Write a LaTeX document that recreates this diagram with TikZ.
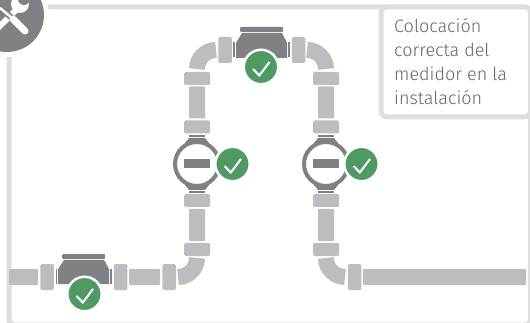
\documentclass[tikz,border=0pt]{standalone}
\usepackage{fontspec}
\setmainfont{Fira Sans}[UprightFont=* Light]
\usepackage{xcolor}
\definecolor{FrameGray}{RGB}{221,222,224}
\definecolor{PipeGray}{RGB}{188,189,192}
\definecolor{MeterGray}{RGB}{128,129,132}
\definecolor{TextGray}{RGB}{100,101,104}
\definecolor{OkGreen}{RGB}{79,154,100}

\begin{document}
\begin{tikzpicture}[x=1pt,y=-1pt,
  pipeh/.style={fill=PipeGray,rounded corners=0.8pt,inner sep=0,outer sep=0,minimum height=16pt},
  pipev/.style={fill=PipeGray,rounded corners=0.8pt,inner sep=0,outer sep=0,minimum width=16pt,minimum height=32pt},
  collarh/.style={fill=PipeGray,rounded corners=1.5pt,inner sep=0,outer sep=0,minimum width=13.5pt,minimum height=26pt},
  collarv/.style={fill=PipeGray,rounded corners=1.5pt,inner sep=0,outer sep=0,minimum width=26pt,minimum height=13pt},
  elbow/.style={draw=PipeGray,line width=16pt},
  meterbar/.style={fill=MeterGray,inner sep=0,outer sep=0},
  ring/.style={circle,draw=MeterGray,line width=4pt,fill=white,inner sep=0,minimum size=44pt},
  okblk/.style={circle,fill=OkGreen,draw=white,line width=2.5pt,inner sep=0,minimum size=34.5pt,
    path picture={\draw[white,line width=2pt] (path picture bounding box.center) ++(-8,2) -- ++(6.3,6.5) -- ++(10.2,-13.5);}},
]
\useasboundingbox (0,0) rectangle (530,323);
% frame and label
\node[draw=FrameGray,line width=5pt,rounded corners=6pt,inner sep=0,minimum width=521.5pt,minimum height=318pt,anchor=north west] (frame) at (6.5,4.5) {};
\node[draw=FrameGray,fill=white,line width=5pt,rounded corners=6pt,inner sep=0,minimum width=149.5pt,minimum height=110pt,anchor=north west] (labelbox) at (378.5,4.5) {};
\node[anchor=north west,inner sep=0,align=left,text=TextGray,font=\fontsize{18}{24}\selectfont] (labeltxt) at (394,18) {Colocación\\correcta del\\medidor en la\\instalación};
% tools badge
\node[circle,fill=white,inner sep=0,minimum size=84pt] (badgehalo) at (7,15) {};
\node[circle,fill=MeterGray,inner sep=0,minimum size=74pt] (badge) at (7,15) {};
\draw[white,line width=6pt] (-3,29) -- (16,10);
\fill[white] (20,4) circle (9pt);
\fill[MeterGray] (24,-1) circle (6pt);
\draw[MeterGray,line width=6pt] (0,8) -- (12,18);
\draw[white,line width=2.5pt] (0,8) -- (12,18);
\draw[white,line width=7pt,line cap=round] (13,19) -- (25,31);
% bottom run
\node[pipeh,minimum width=29pt] (p1) at (23.5,277) {};
\node[collarh] (c1) at (47,277) {};
\node[collarh] (c2) at (120.5,277) {};
\node[pipeh,minimum width=31pt] (p2) at (144.5,277) {};
\node[collarh] (c3) at (169,277) {};
\draw[elbow] (178,277) arc[start angle=270,end angle=360,radius=19pt];
% left column
\node[collarv] (c4) at (197,249.5) {};
\node[pipev] (p3) at (197,225) {};
\node[collarv] (c5) at (197,200.5) {};
\node[collarv] (c6) at (197,127) {};
\node[pipev] (p4) at (197,102.5) {};
\node[collarv] (c7) at (197,78.5) {};
\draw[elbow] (197,69) arc[start angle=180,end angle=90,radius=19pt];
\node[collarh] (c8) at (225,50) {};
% right column
\node[collarh] (c9) at (298.5,50) {};
\draw[elbow] (307,50) arc[start angle=90,end angle=0,radius=19pt];
\node[collarv] (c10) at (326,78.5) {};
\node[pipev] (p5) at (326,102.5) {};
\node[collarv] (c11) at (326,127) {};
\node[collarv] (c12) at (326,200.5) {};
\node[pipev] (p6) at (326,225) {};
\node[collarv] (c13) at (326,249.5) {};
\draw[elbow] (326,258) arc[start angle=180,end angle=270,radius=19pt];
\node[collarh] (c14) at (354.5,277) {};
\node[pipeh,minimum width=163pt] (p7) at (444.5,277) {};
% horizontal meters
\fill[MeterGray] (64,260) -- (104,260) -- (109,269) -- (109,284) -- (58,284) -- (58,269) -- cycle;
\node[meterbar,rounded corners=1pt,minimum width=43pt,minimum height=5pt] (m1cap) at (83.5,256.5) {};
\node[meterbar,minimum width=1.5pt,minimum height=15pt] (m1l) at (56.3,276.5) {};
\node[meterbar,minimum width=1.5pt,minimum height=15pt] (m1r) at (111.2,276.5) {};
\fill[MeterGray] (242,33) -- (282,33) -- (287,43) -- (287,58) -- (236,58) -- (236,43) -- cycle;
\node[meterbar,rounded corners=1pt,minimum width=43pt,minimum height=5pt] (m2cap) at (261.5,29.5) {};
\node[meterbar,minimum width=1.5pt,minimum height=15pt] (m2l) at (233.8,50) {};
\node[meterbar,minimum width=1.5pt,minimum height=15pt] (m2r) at (289.2,50) {};
% round meters
\node[meterbar,minimum width=16pt,minimum height=1.5pt] (m3a) at (197,136) {};
\fill[MeterGray] (189,138) -- (205,138) -- (209,143) -- (185,143) -- cycle;
\node[meterbar,minimum width=16pt,minimum height=1.5pt] (m3b) at (197,192) {};
\fill[MeterGray] (189,190) -- (205,190) -- (209,185) -- (185,185) -- cycle;
\node[ring] (m3) at (197,164) {};
\node[meterbar,minimum width=26pt,minimum height=9pt] (m3bar) at (197,163.5) {};
\node[meterbar,minimum width=16pt,minimum height=1.5pt] (m4a) at (326,136) {};
\fill[MeterGray] (318,138) -- (334,138) -- (338,143) -- (314,143) -- cycle;
\node[meterbar,minimum width=16pt,minimum height=1.5pt] (m4b) at (326,192) {};
\fill[MeterGray] (318,190) -- (334,190) -- (338,185) -- (314,185) -- cycle;
\node[ring] (m4) at (326,164) {};
\node[meterbar,minimum width=26pt,minimum height=9pt] (m4bar) at (326,163.5) {};
% ok marks
\node[okblk] (ok1) at (84.5,294) {};
\node[okblk] (ok2) at (261,67) {};
\node[okblk] (ok3) at (232.5,164) {};
\node[okblk] (ok4) at (361.5,164) {};
\end{tikzpicture}
\end{document}
